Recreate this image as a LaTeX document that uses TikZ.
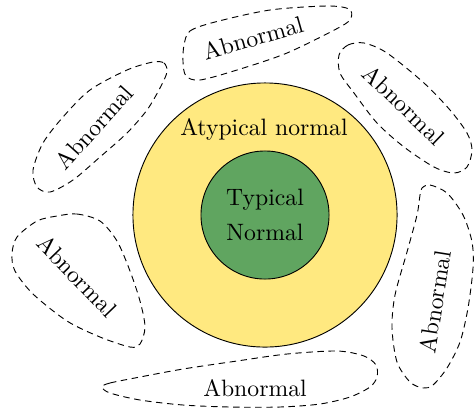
\documentclass[tikz,border=0pt]{standalone}
\usepackage{tikz}

\definecolor{atypicalyellow}{RGB}{255,233,128}
\definecolor{typicalgreen}{RGB}{96,165,96}

\begin{document}
\begin{tikzpicture}[
  x=0.01528cm,
  y=-0.01528cm,
  zone/.style={draw=black, circle, inner sep=0pt, outer sep=0pt},
  region label/.style={font=\fontsize{10.3}{12.4}\selectfont, text=black,
    inner sep=1pt},
  blob/.style={draw=black, thin, dash pattern=on 2.8pt off 2pt}
]
  \path[use as bounding box] (0,0) rectangle (474,408);

  % Nested normal zones.
  \node[zone, fill=atypicalyellow, minimum size=4.034cm] (atypical) at (265,215) {};
  \node[zone, fill=typicalgreen, minimum size=1.956cm] (typical) at (265,215) {};
  \node[region label] (atypicallabel) at (264,129) {Atypical normal};
  \node[region label, align=center] (typicallabel) at (265,215)
    {Typical\\[3pt]Normal};

  % Abnormal regions round the outside.
  \draw[blob] plot[smooth cycle] coordinates {(184,45) (190,31) (215,22)
    (270,10) (327,6) (349,9) (351,18) (340,27) (287,53) (237,70) (200,80)
    (186,76) (183,62)};
  \node[region label, rotate=16] (abnormaltop) at (253,38) {Abnormal};

  \draw[blob] plot[smooth cycle] coordinates {(153,62) (164,63) (167,72)
    (160,88) (147,110) (127,133) (100,157) (73,180) (50,192) (37,187)
    (33,170) (43,143) (63,117) (90,90) (127,70)};
  \node[region label, rotate=48] (abnormalupleft) at (94,127) {Abnormal};

  \draw[blob] plot[smooth cycle] coordinates {(339,55) (348,45) (364,43)
    (387,53) (424,83) (450,110) (467,133) (472,150) (467,167) (454,173)
    (434,167) (404,147) (377,123) (354,93) (340,73)};
  \node[region label, rotate=-44] (abnormalupright) at (404,105) {Abnormal};

  \draw[blob] plot[smooth cycle] coordinates {(57,216) (77,214) (100,221)
    (117,241) (130,271) (140,301) (145,327) (140,344) (130,347) (100,337)
    (67,321) (33,294) (15,271) (12,254) (17,237) (37,221)};
  \node[region label, rotate=-46] (abnormallowleft) at (77,276) {Abnormal};

  \draw[blob] plot[smooth cycle] coordinates {(102,387) (110,383) (140,377)
    (183,369) (237,361) (287,354) (337,351) (364,356) (376,365) (377,377)
    (370,387) (350,397) (320,404) (280,407) (230,407) (183,405) (140,400)
    (110,393)};
  \node[region label] (abnormalbottom) at (255,388) {Abnormal};

  \draw[blob] plot[smooth cycle] coordinates {(422,188) (430,185) (447,193)
    (463,215) (472,242) (473,268) (468,308) (460,342) (447,368) (433,385)
    (423,388) (410,382) (397,362) (392,328) (395,295) (407,252) (417,215)
    (420,195)};
  \node[region label, rotate=81] (abnormalright) at (435,302) {Abnormal};
\end{tikzpicture}
\end{document}
